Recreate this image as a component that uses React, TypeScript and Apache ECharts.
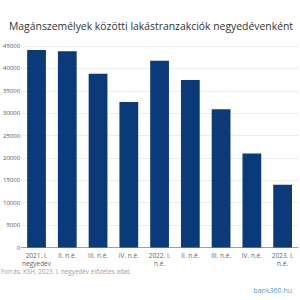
import React, { useEffect, useRef } from "react";
import * as echarts from "echarts";

const categories = [
  "2021. I.\nnegyedév",
  "II. n.é.",
  "III. n.é.",
  "IV. n.é.",
  "2022. I.\nn.é.",
  "II. n.é.",
  "III. n.é.",
  "IV. n.é.",
  "2023. I.\nn.é.",
];
const transactions = [44100, 43800, 38800, 32500, 41700, 37400, 30900, 21000, 14000];
const titleText = "Magánszemélyek közötti lakástranzakciók negyedévenként";
const sourceText = "Forrás: KSH, 2023. I. negyedév előzetes adat.";
const brandText = "bank360.hu";

export default function App() {
  const ref = useRef<HTMLDivElement>(null);
  useEffect(() => {
    if (!ref.current) return;
    const chart = echarts.init(ref.current, null, { renderer: "svg" });
    chart.setOption({
      animation: false,
      backgroundColor: "#ffffff",
      textStyle: { fontFamily: "Open Sans" },
      title: {
        text: titleText,
        left: 4,
        top: 16,
        textStyle: { fontSize: 10.4, fontWeight: "normal", color: "#333333", fontFamily: "Open Sans" },
      },
      grid: { left: 18, right: 2, top: 46, bottom: 52.5, containLabel: false },
      xAxis: {
        type: "category",
        data: categories,
        axisLine: { lineStyle: { color: "#a0a0a0", width: 1 } },
        axisTick: { show: false },
        axisLabel: {
          fontSize: 6.5,
          color: "#666666",
          interval: 0,
          margin: 4,
          lineHeight: 8,
          fontFamily: "Open Sans",
        },
      },
      yAxis: {
        type: "value",
        min: 0,
        max: 45000,
        interval: 5000,
        axisLine: { show: false },
        axisTick: { show: false },
        splitLine: { lineStyle: { color: "#ececec", width: 1 } },
        axisLabel: {
          fontSize: 6,
          color: "#555555",
          margin: 1,
          fontFamily: "Open Sans",
          formatter: (v: number) => String(v),
        },
      },
      series: [
        {
          type: "bar",
          data: transactions,
          barCategoryGap: "39%",
          itemStyle: { color: "#0a3a7a" },
        },
      ],
      graphic: [
        {
          type: "text",
          left: 1,
          top: 268,
          style: { text: sourceText, fontSize: 6.3, fill: "#a0a0a0", fontFamily: "Open Sans" },
        },
        {
          type: "text",
          right: 8,
          top: 287,
          style: { text: brandText, fontSize: 7, fill: "#4a9fd4", fontFamily: "Open Sans" },
        },
      ],
    });
    return () => chart.dispose();
  }, []);
  return <div ref={ref} style={{ width: 300, height: 300, position: "fixed", left: 0, top: 0 }} />;
}
